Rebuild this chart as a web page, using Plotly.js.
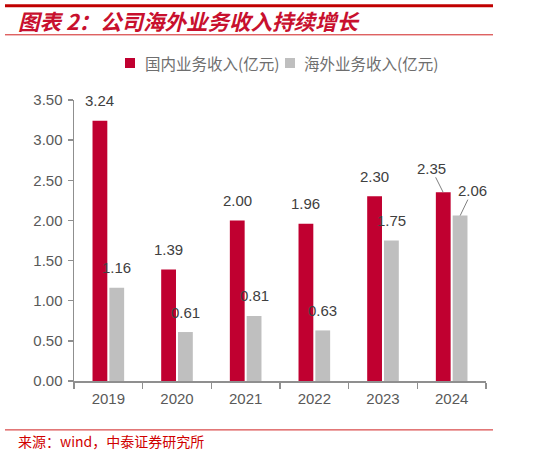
<!DOCTYPE html>
<html>
<head>
<meta charset="utf-8">
<script src="https://cdn.plot.ly/plotly-3.0.1.min.js"></script>
<style>
html,body{margin:0;padding:0;background:#fff;}
#chart{width:556px;height:453px;}
</style>
</head>
<body>
<div id="chart"></div>
<script>
// ---- data ----
const years = ['2019', '2020', '2021', '2022', '2023', '2024'];
const domestic = [3.24, 1.39, 2.00, 1.96, 2.30, 2.35];
const overseas = [1.16, 0.61, 0.81, 0.63, 1.75, 2.06];
const seriesNames = ['国内业务收入(亿元)', '海外业务收入(亿元)'];
const yTicks = [0, 0.5, 1.0, 1.5, 2.0, 2.5, 3.0, 3.5];
const titleText = '图表 2：公司海外业务收入持续增长';
const sourceText = '来源：wind，中泰证券研究所';

// ---- style ----
const RED = '#C00030';
const GRAY = '#BFBFBF';
const TITLE_RED = '#C8102E';
const AXIS = '#8F8F8F';
const CJK = '"Noto Sans CJK SC", "Noto Sans", sans-serif';
const NUMF = 'Arial, "Liberation Sans", sans-serif';
const barOffset = 8.5;           // px from category centre to each bar centre
const labelLift = 20;            // px label centre above bar top
const leader = {dom: {ax: -12, ay: -24}, ovs: {ax: 12, ay: -25}};
const seriesColors = [RED, GRAY];
// legend layout (paper coords): square x0, x1 and text x for each entry
const legendPos = [
  {sx0: 0.1238, sx1: 0.1481, tx: 0.1675},
  {sx0: 0.5121, sx1: 0.5364, tx: 0.5534}
];
const legendY = {y0: 1.1139, y1: 1.1495, ty: 1.1317};

const traces = [
  {type: 'bar', name: seriesNames[0], x: years, y: domestic,
   marker: {color: seriesColors[0]}, hoverinfo: 'none'},
  {type: 'bar', name: seriesNames[1], x: years, y: overseas,
   marker: {color: seriesColors[1]}, hoverinfo: 'none'}
];

const annotations = [];
function addLabels(vals, sign, lead) {
  vals.forEach((v, i) => {
    const last = i === vals.length - 1;
    const a = {
      x: i, y: v, xref: 'x', yref: 'y',   // category index on the category axis
      text: v.toFixed(2), xshift: sign * barOffset,
      font: {family: NUMF, size: 15, color: '#404040'}
    };
    if (last) {
      a.showarrow = true; a.arrowhead = 0; a.arrowwidth = 1;
      a.arrowcolor = '#808080'; a.ax = lead.ax; a.ay = lead.ay;
      a.standoff = 0; a.borderpad = 0;
    } else {
      a.showarrow = false; a.yshift = labelLift;
    }
    annotations.push(a);
  });
}
addLabels(domestic, -1, leader.dom);
addLabels(overseas, 1, leader.ovs);

const shapes = [
  {type: 'line', xref: 'paper', yref: 'paper', x0: -0.1675, x1: 1.017, y0: 1.335, y1: 1.335,
   line: {color: '#C00000', width: 3}},
  {type: 'line', xref: 'paper', yref: 'paper', x0: -0.1675, x1: 1.017, y0: 1.232, y1: 1.232,
   line: {color: '#D02020', width: 1}},
  {type: 'line', xref: 'paper', yref: 'paper', x0: -0.1675, x1: 1.017, y0: -0.174, y1: -0.174,
   line: {color: '#D02020', width: 1}}
];

// custom legend built from series names / colours
seriesNames.forEach((nm, k) => {
  shapes.push({type: 'rect', xref: 'paper', yref: 'paper',
    x0: legendPos[k].sx0, x1: legendPos[k].sx1, y0: legendY.y0, y1: legendY.y1,
    fillcolor: seriesColors[k], line: {width: 0}});
  annotations.push({xref: 'paper', yref: 'paper', x: legendPos[k].tx, y: legendY.ty,
    xanchor: 'left', yanchor: 'middle', showarrow: false, text: nm,
    font: {family: CJK, size: 15.5, color: '#6E6E6E'}});
});

// title & source
annotations.push({
  xref: 'paper', yref: 'paper', x: -0.14, y: 1.282, xanchor: 'left', yanchor: 'middle',
  text: '<b><i>' + titleText + '</i></b>', showarrow: false,
  font: {family: CJK, size: 21.5, color: TITLE_RED}
});
annotations.push({
  xref: 'paper', yref: 'paper', x: -0.141, y: -0.212, xanchor: 'left', yanchor: 'middle',
  text: sourceText, showarrow: false,
  font: {family: CJK, size: 14, color: '#D00000'}
});

const layout = {
  width: 556, height: 453,
  margin: {l: 74, r: 70, t: 100, b: 72},
  paper_bgcolor: '#fff', plot_bgcolor: '#fff',
  barmode: 'group', bargap: 0.51, bargroupgap: 0.12,
  showlegend: false,
  xaxis: {
    type: 'category', range: [-0.5, years.length - 0.5], autorange: false,
    showgrid: false, zeroline: false,
    showline: true, linecolor: AXIS, linewidth: 1.5,
    ticks: 'outside', tickson: 'boundaries', ticklen: 6, tickcolor: AXIS, tickwidth: 1.5,
    ticklabelstandoff: 3,
    tickfont: {family: NUMF, size: 15, color: '#595959'}, fixedrange: true
  },
  yaxis: {
    range: [0, 3.5], autorange: false, tickvals: yTicks, ticktext: yTicks.map(v => v.toFixed(2)),
    showgrid: false, zeroline: false,
    showline: true, linecolor: AXIS, linewidth: 1.5,
    ticks: 'outside', ticklen: 5, tickcolor: AXIS, tickwidth: 1.5,
    ticklabelstandoff: 2,
    tickfont: {family: NUMF, size: 15, color: '#595959'}, fixedrange: true
  },
  annotations: annotations,
  shapes: shapes
};

Plotly.newPlot('chart', traces, layout, {displayModeBar: false, staticPlot: true});
</script>
</body>
</html>
